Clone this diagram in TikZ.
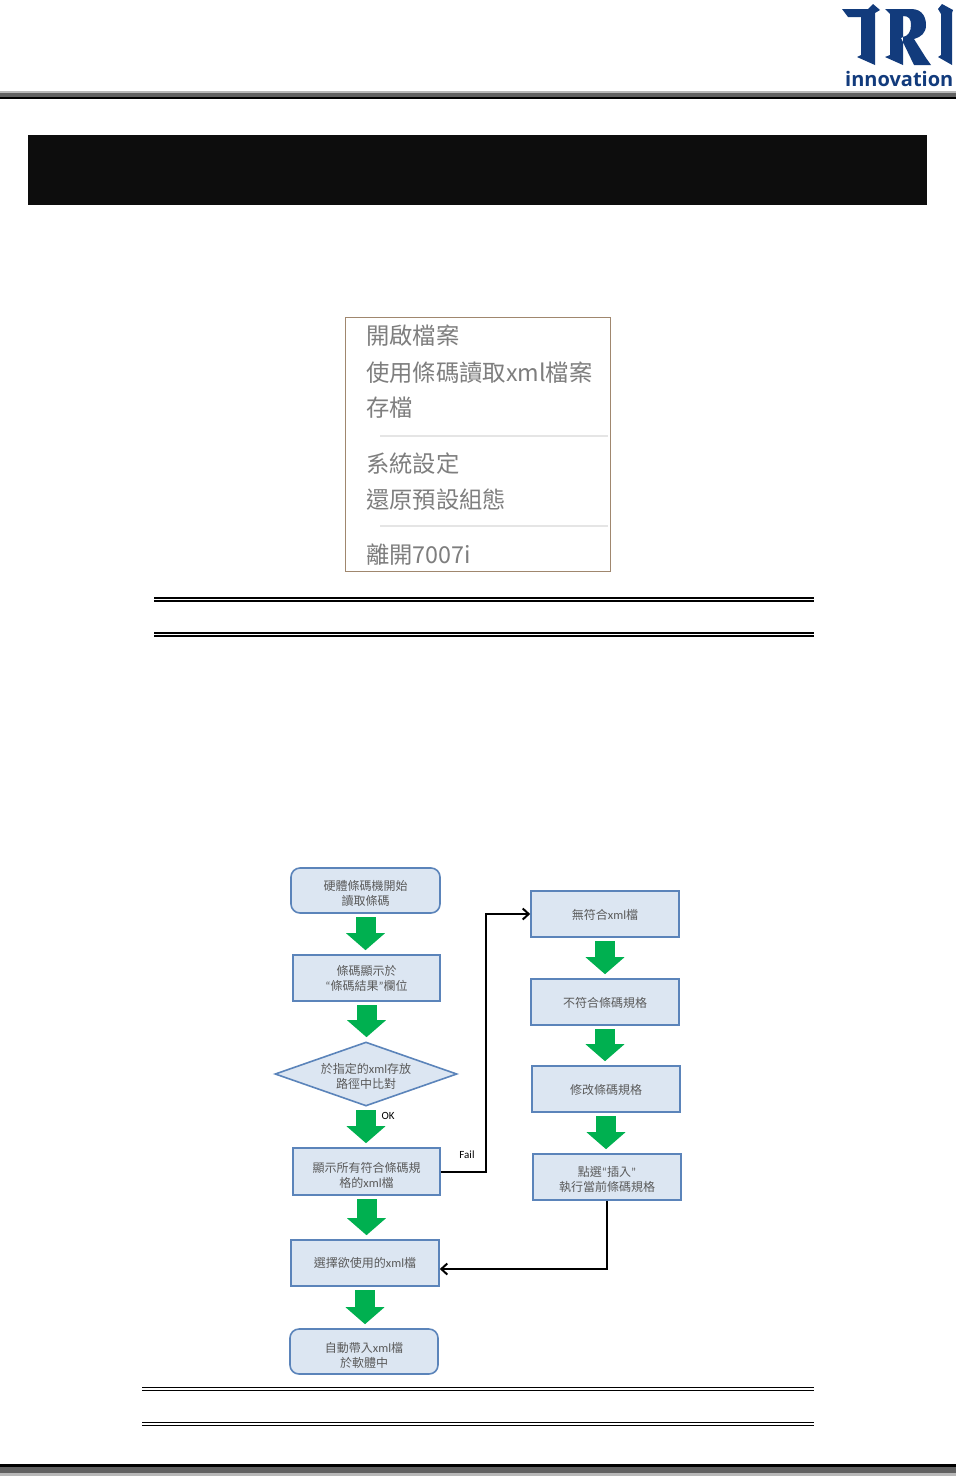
\documentclass[tikz,border=0pt]{standalone}
\usepackage{fontspec}
\setmainfont{Noto Sans CJK TC}
\newfontfamily\latinsf{Carlito}
\newfontfamily\logofont{Open Sans}
\usetikzlibrary{shapes.geometric,arrows.meta,calc}
\definecolor{boxfill}{HTML}{DCE6F2}
\definecolor{boxedge}{HTML}{5B84BA}
\definecolor{boxtext}{HTML}{5A5A5A}
\definecolor{flowgreen}{HTML}{00B050}
\definecolor{navy}{HTML}{123B7C}
\definecolor{menutext}{HTML}{7E7E7E}
\newcommand{\xm}{{\latinsf\fontsize{12.5}{15}\selectfont xml}}
\newcommand{\openq}{{\latinsf “}}
\newcommand{\closeq}{{\latinsf ”}}
\newcommand{\dn}[1]{\rule{0pt}{#1}}
\tikzset{
  x=1pt,y=-1pt,
  flow/.style={draw=boxedge,line width=1.6pt,fill=boxfill,text=boxtext,font=\fontsize{12}{15}\selectfont,align=center,inner sep=0pt,minimum width=148pt,minimum height=46pt},
  squarebox/.style={flow,rectangle},
  roundbox/.style={flow,rectangle,rounded corners=9pt},
  decision/.style={flow,diamond,aspect=2.85,minimum width=182pt,minimum height=64pt},
  greenarrow/.style={draw=flowgreen,line width=20pt,shorten <=3.5pt,shorten >=4pt,-{Triangle[length=17pt,width=38pt]}},
  blackline/.style={draw=black,line width=2pt,-{Straight Barb[length=6pt,width=11pt,line width=2pt]}},
  menuitem/.style={anchor=west,inner sep=0pt,text=menutext,font=\fontsize{23.3}{23.3}\selectfont},
  small/.style={inner sep=0pt,text=black,font=\latinsf\fontsize{11}{11}\selectfont},
  rulebar/.style={fill=black,draw=none},
}
\begin{document}
\begin{tikzpicture}
\useasboundingbox (0,0) rectangle (956,1476);
\fill[white] (0,0) rectangle (956,1476);
% header rule
\fill[black!28] (0,91) rectangle (956,93);
\fill[black!62] (0,93) rectangle (956,97);
\fill[black] (0,97) rectangle (956,99);
% logo
\fill[navy] (842,9) -- (868,9) -- (873,4) -- (880,10) -- (875,13) -- (875,65) -- (857,57) -- (861,55) -- (861,17) -- (848,17) -- cycle;
\fill[navy,even odd rule] (885,9) -- (911,9) .. controls (923,9) and (926,18) .. (926,25) .. controls (926,33) and (921,37) .. (914,39) -- (926,58) -- (931,65) -- (914,65) -- (901,38) -- (903,37) .. controls (908,36) and (911,32) .. (911,25) .. controls (911,19) and (909,16) .. (903,16) -- (903,65) -- (885,57) -- (890,55) -- (890,14) -- cycle;
\fill[navy] (938,9) -- (942,4) -- (953,10) -- (952,13) -- (952,65) -- (938,57) -- (941,55) -- (941,14) -- cycle;
\node[inner sep=0pt,anchor=base west,text=navy] (logotext) at (845,86) {\logofont\bfseries\fontsize{20}{20}\selectfont innovation};
% title band
\fill[black!95] (28,135) rectangle (927,205);
% menu screenshot
\node[draw={rgb,255:red,160;green,135;blue,110},line width=1pt,fill=white,minimum width=265pt,minimum height=254pt,inner sep=0pt] (shot) at (477.5,444) {};
\draw[black!10,line width=1.2pt] (380,436) -- (608,436);
\draw[black!10,line width=1.2pt] (380,526) -- (608,526);
\node[menuitem] (m1) at (366,336) {開啟檔案};
\node[menuitem] (m2) at (366,372.5) {使用條碼讀取xml檔案};
\node[menuitem] (m3) at (366,407.5) {存檔};
\node[menuitem] (m4) at (366,463.5) {系統設定};
\node[menuitem] (m5) at (366,499.5) {還原預設組態};
\node[menuitem] (m6) at (366,554.5) {離開7007i};
% double rules
\fill[rulebar] (154,597) rectangle (814,598.5);
\fill[rulebar] (154,600) rectangle (814,602);
\fill[rulebar] (154,632) rectangle (814,633.6);
\fill[rulebar] (154,635) rectangle (814,637);
\fill[rulebar] (142,1387) rectangle (814,1388.3);
\fill[rulebar] (142,1390) rectangle (814,1391.3);
\fill[rulebar] (142,1422) rectangle (814,1423.3);
\fill[rulebar] (142,1425) rectangle (814,1426.3);
% footer rule
\fill[black] (0,1464) rectangle (956,1467);
\fill[black!62] (0,1467) rectangle (956,1473);
\fill[black!28] (0,1473) rectangle (956,1476);
% flow nodes
\node[roundbox,minimum width=149pt,minimum height=45pt] (b1) at (365.5,890.5) {\dn{16pt}硬體條碼機開始\\讀取條碼};
\node[squarebox,minimum width=147pt] (b2) at (366.5,978) {條碼顯示於\\\openq 條碼結果\closeq 欄位};
\node[decision] (d) at (366,1074) {\dn{14pt}於指定的\xm 存放\\路徑中比對};
\node[squarebox,minimum width=147pt,minimum height=47pt] (b3) at (366.5,1171.5) {\dn{18pt}顯示所有符合條碼規\\格的\xm 檔};
\node[squarebox] (b4) at (365,1263) {選擇欲使用的\xm 檔};
\node[roundbox,minimum height=45pt] (b5) at (364,1351.5) {\dn{18pt}自動帶入\xm 檔\\於軟體中};
\node[squarebox] (a1) at (605,914) {\dn{12pt}無符合\xm 檔};
\node[squarebox] (a2) at (605,1002) {\dn{12pt}不符合條碼規格};
\node[squarebox] (a3) at (606,1089) {\dn{12pt}修改條碼規格};
\node[squarebox] (a4) at (607,1177) {\dn{15pt}點選\openq 插入\closeq\\執行當前條碼規格};
\coordinate (turn) at (486,1000);
% green arrows
\draw[greenarrow] (b1.south) -- (b1.south |- b2.north);
\draw[greenarrow] (b2.south) -- (b2.south |- d.north);
\draw[greenarrow] (d.south) -- (d.south |- b3.north);
\draw[greenarrow] (b3.south) -- (b3.south |- b4.north);
\draw[greenarrow] (b4.south) -- (b4.south |- b5.north);
\draw[greenarrow] (a1.south) -- (a1.south |- a2.north);
\draw[greenarrow] (a2.south) -- (a2.south |- a3.north);
\draw[greenarrow] (a3.south) -- (a3.south |- a4.north);
% black connectors
\draw[blackline] (b3.east) -- (b3.east -| turn) |- (a1.west);
\draw[blackline] (a4.south) |- ([yshift=-6pt]b4.east);
% labels
\node[small] (ok) at (388,1116) {OK};
\node[small] (fail) at (467,1155) {Fail};
\end{tikzpicture}
\end{document}
